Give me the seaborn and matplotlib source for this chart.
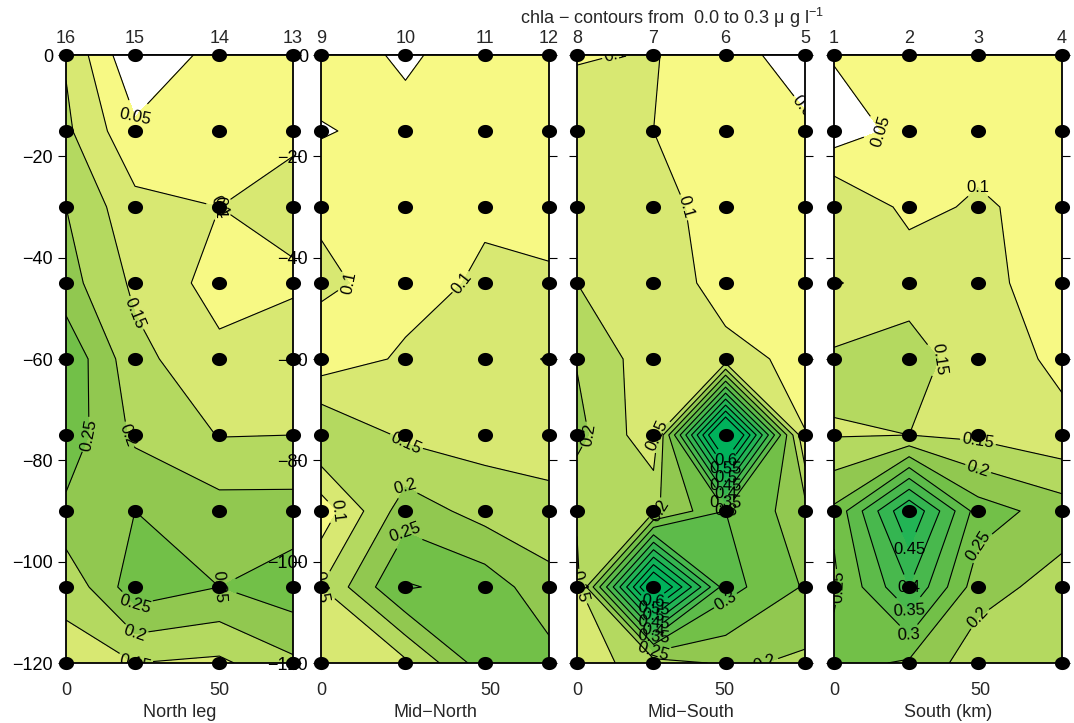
import numpy as np
import pandas as pd
import matplotlib
matplotlib.use("Agg")
import matplotlib.pyplot as plt
from matplotlib.path import Path
import seaborn as sns

# ---------------- data ----------------
depths = [0, -15, -30, -45, -60, -75, -90, -105, -120]

north_x = [0, 22.5, 50, 74]
north_st = [16, 15, 14, 13]
north = [
    [0.145, 0.005, 0.07, 0.08],
    [0.16, 0.06, 0.08, 0.09],
    [0.20, 0.115, 0.10, 0.12],
    [0.22, 0.14, 0.08, 0.09],
    [0.29, 0.165, 0.113, 0.14],
    [0.28, 0.19, 0.148, 0.15],
    [0.24, 0.25, 0.22, 0.22],
    [0.16, 0.28, 0.25, 0.28],
    [0.137, 0.15, 0.14, 0.19],
]

midnorth_x = [0, 25, 48.5, 67.5]
midnorth_st = [9, 10, 11, 12]
midnorth = [
    [0.082, 0.04, 0.083, 0.08],
    [0.045, 0.07, 0.08, 0.08],
    [0.0925, 0.08, 0.093, 0.09],
    [0.11, 0.08, 0.108, 0.104],
    [0.07, 0.108, 0.13, 0.153],
    [0.205, 0.14, 0.13, 0.12],
    [0.07, 0.228, 0.18, 0.17],
    [0.15, 0.305, 0.28, 0.215],
    [0.12, 0.14, 0.28, 0.27],
]

midsouth_x = [0, 26, 50.5, 77.5]
midsouth_st = [8, 7, 6, 5]
midsouth = [
    [0.098, 0.102, 0.08, 0.015],
    [0.113, 0.10, 0.08, 0.063],
    [0.13, 0.116, 0.08, 0.07],
    [0.15, 0.13, 0.08, 0.08],
    [0.197, 0.119, 0.115, 0.088],
    [0.215, 0.115, 0.75, 0.101],
    [0.16, 0.19, 0.30, 0.22],
    [0.13, 0.70, 0.32, 0.245],
    [0.13, 0.17, 0.21, 0.19],
]

south_x = [0, 25.7, 49.3, 78]
south_st = [1, 2, 3, 4]
south = [
    [0.055, 0.08, 0.08, 0.08],
    [0.02, 0.068, 0.08, 0.08],
    [0.155, 0.085, 0.107, 0.08],
    [0.095, 0.135, 0.112, 0.08],
    [0.16, 0.165, 0.13, 0.088],
    [0.147, 0.15, 0.14, 0.115],
    [0.26, 0.50, 0.275, 0.225],
    [0.24, 0.40, 0.22, 0.18],
    [0.27, 0.242, 0.17, 0.17],
]

panel_names = ["North leg", "Mid\u2212North", "Mid\u2212South", "South (km)"]
y_ticks = [0, -20, -40, -60, -80, -100, -120]
x_ticks = [0, 50]

fill_levels = [0, 0.05, 0.10, 0.15, 0.20, 0.25, 0.30, 0.35, 0.40, 0.45, 0.50, 0.55, 0.60, 2.0]
line_levels = [0.05, 0.10, 0.15, 0.20, 0.25, 0.30, 0.35, 0.40, 0.45, 0.50, 0.55, 0.60]
band_colors = ["#FFFFFF", "#F7F984", "#D8E872", "#B4D960", "#91C850", "#72C048",
               "#5DBB4A", "#48B84D", "#34B551", "#22B455", "#10B358", "#05B25A", "#00B25B"]

# ---------------- style ----------------
sns.set_style("white")
plt.rcParams["font.family"] = ["Liberation Sans", "DejaVu Sans"]
plt.rcParams["mathtext.fontset"] = "custom"
plt.rcParams["mathtext.rm"] = "Liberation Sans"
plt.rcParams["mathtext.it"] = "Liberation Sans:italic"
plt.rcParams["axes.unicode_minus"] = True

W, H = 1074, 723
fig = plt.figure(figsize=(W / 100, H / 100), dpi=100)
fig.patch.set_facecolor("white")

lefts_px = [66, 321, 577, 834]
widths_px = [227, 228, 228, 228]
top_px, bot_px = 55, 663

# elliptical dot marker (reference dots are slightly wider than tall)
t = np.linspace(0, 2 * np.pi, 60)
dot_marker = Path(np.column_stack([1.15 * np.cos(t), np.sin(t)]), closed=True)

panels = [
    (north_x, north_st, north),
    (midnorth_x, midnorth_st, midnorth),
    (midsouth_x, midsouth_st, midsouth),
    (south_x, south_st, south),
]

fmt = lambda v: f"{v:g}"

for i, (xs, sts, vals) in enumerate(panels):
    ax = fig.add_axes([lefts_px[i] / W, 1 - bot_px / H,
                       widths_px[i] / W, (bot_px - top_px) / H])
    X, Y = np.meshgrid(np.array(xs, float), np.array(depths, float))
    Z = np.array(vals, float)

    ax.contourf(X, Y, Z, levels=fill_levels, colors=band_colors, zorder=1)
    cs = ax.contour(X, Y, Z, levels=line_levels, colors="black",
                    linewidths=0.8, zorder=2)
    ax.clabel(cs, inline=True, fontsize=12, fmt=fmt, inline_spacing=2)

    df = pd.DataFrame({"x": np.repeat([xs], len(depths), axis=0).ravel(),
                       "depth": np.repeat(depths, len(xs))})
    sns.scatterplot(data=df, x="x", y="depth", ax=ax, color="black",
                    marker=dot_marker, s=118, linewidth=0, clip_on=False,
                    zorder=6, legend=False)

    ax.set_xlim(0, xs[-1])
    ax.set_ylim(-120, 0)

    ax.set_yticks(y_ticks)
    ax.tick_params(axis="y", which="both", left=True, right=True,
                   direction="out", length=5.8, width=0.8,
                   labelsize=13, pad=3.6, labelleft=(i < 2),
                   colors="black")
    ax.set_xticks(x_ticks)
    ax.set_xticklabels([str(v) for v in x_ticks])
    ax.tick_params(axis="x", bottom=True, length=0, labelsize=13, pad=13.5)
    ax.set_xlabel(panel_names[i], fontsize=13, labelpad=4)
    ax.set_ylabel("")

    sec = ax.secondary_xaxis("top")
    sec.set_xticks(xs)
    sec.set_xticklabels([str(s) for s in sts])
    sec.tick_params(axis="x", direction="out", length=3.6, width=0.8,
                    labelsize=13, pad=2.5)
    sec.spines["top"].set_linewidth(1.3)

    for sp in ax.spines.values():
        sp.set_visible(True)
        sp.set_color("black")
        sp.set_linewidth(1.3)
        sp.set_zorder(7)

fig.text(520 / W, 1 - 18 / H,
         "chla \u2212 contours from  0.0 to 0.3 \u03bc g l$^{-1}$",
         ha="left", va="center", fontsize=13)

fig.savefig("out.png", dpi=100, facecolor="white")
